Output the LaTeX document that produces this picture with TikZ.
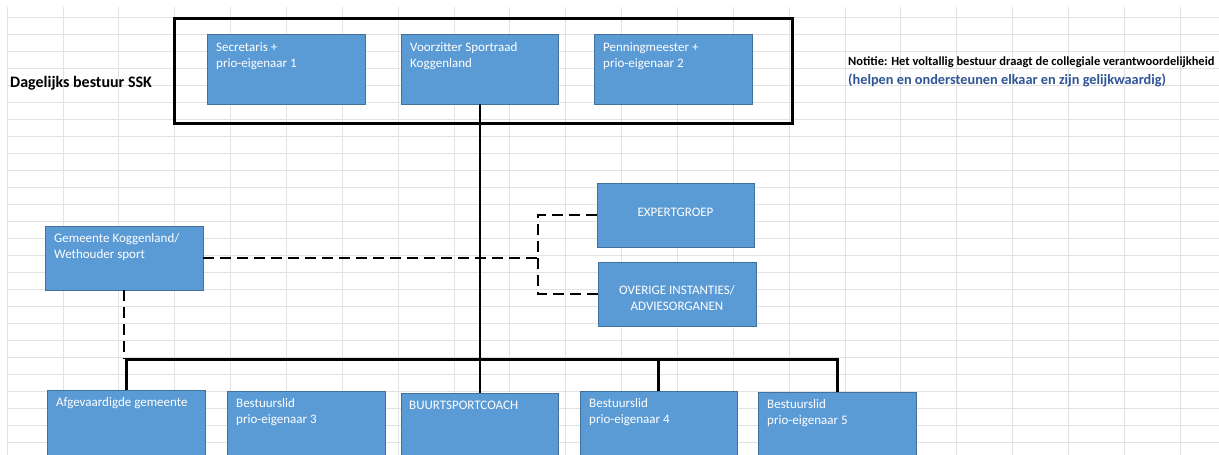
\documentclass[tikz,border=0pt]{standalone}
\usepackage{fontspec}
\setmainfont{Carlito}
\definecolor{boxblue}{HTML}{5B9BD5}
\definecolor{boxedge}{HTML}{41719C}
\definecolor{gridgray}{HTML}{E2E2E2}
\definecolor{noteblue}{HTML}{2F5597}
\tikzset{
  box/.style={draw=boxedge,line width=0.8pt,fill=boxblue,anchor=north west,inner sep=0pt,outer sep=0pt},
  boxtxt/.style={anchor=north west,inner sep=0pt,text=white,font=\fontsize{13}{16}\selectfont,align=left},
  ctrtxt/.style={inner sep=0pt,text=white,font=\fontsize{13}{16}\selectfont,align=center},
  solidln/.style={line width=2pt,black},
  thickln/.style={line width=3pt,black},
  dashln/.style={line width=2.5pt,black,dash pattern=on 11pt off 6pt},
  gridln/.style={gridgray,line width=0.8pt},
}
\begin{document}
\begin{tikzpicture}[x=1pt,y=-1pt]
\useasboundingbox (0,0) rectangle (1219,455);
\clip (0,0) rectangle (1219,455);
\fill[white] (0,0) rectangle (1219,455);
% spreadsheet grid
\foreach \i in {0,...,21} \draw[gridln] ({7.15+55.85*\i},7) -- ({7.15+55.85*\i},455);
\foreach \j in {1,...,26} \draw[gridln] (7,{17*\j}) -- (1219,{17*\j});

% frame around daily board
\node[draw,line width=3pt,anchor=north west,inner sep=0pt,minimum width=618pt,minimum height=105pt] (frame) at (173,17) {};

% boxes
\node[box,minimum width=158pt,minimum height=70pt] (sec) at (207,34) {};
\node[box,minimum width=157pt,minimum height=70pt] (voo) at (401,34) {};
\node[box,minimum width=158pt,minimum height=70pt] (pen) at (594,34) {};
\node[box,minimum width=158pt,minimum height=64pt] (gem) at (45,226) {};
\node[box,minimum width=157pt,minimum height=64pt] (exp) at (597,183) {};
\node[box,minimum width=158pt,minimum height=64pt] (ove) at (598,262) {};
\node[box,minimum width=158pt,minimum height=80pt] (afg) at (47,390) {};
\node[box,minimum width=158pt,minimum height=80pt] (be3) at (227,391) {};
\node[box,minimum width=157pt,minimum height=80pt] (buu) at (401,393) {};
\node[box,minimum width=157pt,minimum height=80pt] (be4) at (580,391) {};
\node[box,minimum width=158pt,minimum height=80pt] (be5) at (758,392) {};

% box texts
\node[boxtxt] (sec-t) at ([shift={(9,6)}]sec.north west) {\strut Secretaris +\\prio-eigenaar 1};
\node[boxtxt] (voo-t) at ([shift={(9,6)}]voo.north west) {\strut Voorzitter Sportraad\\Koggenland};
\node[boxtxt] (pen-t) at ([shift={(9,6)}]pen.north west) {\strut Penningmeester +\\prio-eigenaar 2};
\node[boxtxt] (gem-t) at ([shift={(9,5)}]gem.north west) {\strut Gemeente Koggenland/\\Wethouder sport};
\node[ctrtxt] (exp-t) at ([yshift=3pt]exp.center) {EXPERTGROEP};
\node[ctrtxt] (ove-t) at ([yshift=-4.5pt]ove.center) {OVERIGE INSTANTIES/\\ADVIESORGANEN};
\node[boxtxt] (afg-t) at ([shift={(9,5)}]afg.north west) {\strut Afgevaardigde gemeente};
\node[boxtxt] (be3-t) at ([shift={(9,5)}]be3.north west) {\strut Bestuurslid\\prio-eigenaar 3};
\node[boxtxt] (buu-t) at ([shift={(8,5)}]buu.north west) {\strut BUURTSPORTCOACH};
\node[boxtxt] (be4-t) at ([shift={(9,5)}]be4.north west) {\strut Bestuurslid\\prio-eigenaar 4};
\node[boxtxt] (be5-t) at ([shift={(9,5)}]be5.north west) {\strut Bestuurslid\\prio-eigenaar 5};

% free texts
\node[anchor=base west,inner sep=0pt,font=\bfseries\fontsize{16}{19}\selectfont] (title) at (10,87) {Dagelijks bestuur SSK};
\node[anchor=base west,inner sep=0pt,font=\bfseries\fontsize{12.5}{15}\selectfont] (note1) at (848,65) {Notitie: Het voltallig bestuur draagt de collegiale verantwoordelijkheid};
\node[anchor=base west,inner sep=0pt,text=noteblue,font=\bfseries\fontsize{14.3}{17}\selectfont] (note2) at (848,84.5) {(helpen en ondersteunen elkaar en zijn gelijkwaardig)};

% connectors
\coordinate (bary) at (0,359);
\coordinate (brk) at (538,258);
\draw[solidln] (voo.south) -- (buu.north);
\draw[thickln] (afg.north) -- (afg.north |- bary) -| (be5.north);
\draw[thickln] (be4.north) -- (be4.north |- bary);
\draw[dashln] (gem.south) -- (gem.south |- bary);
\draw[dashln] (gem.east) -- (brk);
\draw[dashln] (exp.west) -- (exp.west -| brk) -- (ove.west -| brk) -- (ove.west);
\end{tikzpicture}
\end{document}
